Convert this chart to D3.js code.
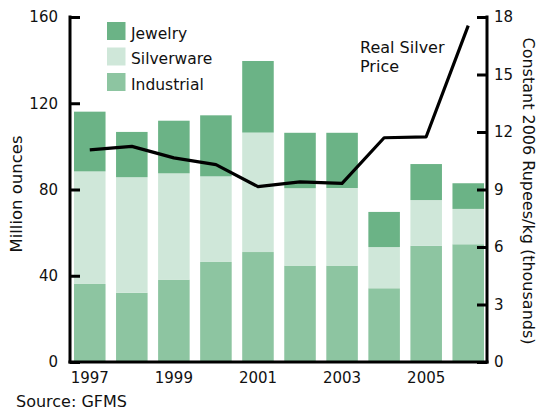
<!DOCTYPE html>
<html>
<head>
<meta charset="utf-8">
<script src="https://cdn.jsdelivr.net/npm/d3@7"></script>
<style>
  html, body { margin: 0; padding: 0; background: #fff; }
  svg { display: block; }
  text { font-family: "DejaVu Sans", Verdana, sans-serif; fill: #111; }
</style>
</head>
<body>
<svg id="chart" width="539" height="409"></svg>
<script>
// Silver demand in India by end use (million ounces) and the real silver price
const years = [1997, 1998, 1999, 2000, 2001, 2002, 2003, 2004, 2005, 2006];
const industrial = [36.2, 32.1, 38.2, 46.4, 51.0, 44.7, 44.7, 34.2, 53.9, 54.6];
const silverware = [52.2, 53.6, 49.3, 39.7, 55.4, 35.9, 36.0, 19.1, 21.2, 16.4];
const jewelry = [27.7, 21.0, 24.4, 28.3, 33.2, 25.7, 25.6, 16.3, 16.7, 11.9];
const price = [11.07, 11.25, 10.65, 10.3, 9.15, 9.4, 9.32, 11.7, 11.75, 17.55];

const leftTicks = [0, 40, 80, 120, 160];
const rightTicks = [0, 3, 6, 9, 12, 15, 18];
const yearLabels = [1997, 1999, 2001, 2003, 2005];

const seriesNames = ["Industrial", "Silverware", "Jewelry"];
const seriesColors = { Industrial: "#8dc5a1", Silverware: "#cfe7d9", Jewelry: "#6bb386" };

const rows = years.map((y, i) => ({
  year: y, Industrial: industrial[i], Silverware: silverware[i], Jewelry: jewelry[i]
}));

const svg = d3.select("#chart");
const plot = { left: 70, right: 487, top: 17, bottom: 362 };
const tickFont = 15;
const textFont = 16;

const x = d3.scaleBand().domain(years).range([74, 484]).paddingInner(0.25).paddingOuter(0);
const yL = d3.scaleLinear().domain([0, 160]).range([plot.bottom, plot.top]);
const yR = d3.scaleLinear().domain([0, 18]).range([plot.bottom, plot.top]);

// stacked bars
const stacked = d3.stack().keys(seriesNames)(rows);
svg.append("g").selectAll("g")
  .data(stacked)
  .join("g")
  .attr("fill", d => seriesColors[d.key])
  .selectAll("rect")
  .data(d => d)
  .join("rect")
  .attr("x", d => x(d.data.year))
  .attr("width", x.bandwidth())
  .attr("y", d => yL(d[1]))
  .attr("height", d => yL(d[0]) - yL(d[1]));

// real silver price line
const line = d3.line()
  .x((d, i) => x(years[i]) + x.bandwidth() / 2)
  .y(d => yR(d));
svg.append("path")
  .datum(price)
  .attr("d", line)
  .attr("fill", "none")
  .attr("stroke", "#000")
  .attr("stroke-width", 3.2)
  .attr("stroke-linejoin", "round");

// left axis
const leftAxis = d3.axisRight(yL).tickValues(leftTicks).tickSize(10).tickFormat(d3.format("d"));
const gL = svg.append("g").attr("transform", `translate(${plot.left},0)`).call(leftAxis);
gL.select(".domain").remove();
gL.selectAll(".tick line").attr("stroke", "#000").attr("stroke-width", 3);
gL.selectAll(".tick text").attr("x", -12).attr("text-anchor", "end")
  .attr("font-size", tickFont).attr("font-family", "DejaVu Sans, Verdana, sans-serif").attr("fill", "#111");

// right axis
const rightAxis = d3.axisLeft(yR).tickValues(rightTicks).tickSize(10);
const gR = svg.append("g").attr("transform", `translate(${plot.right},0)`).call(rightAxis);
gR.select(".domain").remove();
gR.selectAll(".tick line").attr("stroke", "#000").attr("stroke-width", 3);
gR.selectAll(".tick text").attr("x", 7).attr("text-anchor", "start")
  .attr("font-size", tickFont).attr("font-family", "DejaVu Sans, Verdana, sans-serif").attr("fill", "#111");

// bottom axis with year labels
const bottomAxis = d3.axisBottom(x).tickValues(yearLabels).tickSize(0).tickFormat(d3.format("d"));
const gB = svg.append("g").attr("transform", `translate(0,${plot.bottom})`).call(bottomAxis);
gB.select(".domain").remove();
gB.selectAll(".tick text").attr("y", 10)
  .attr("font-size", tickFont).attr("font-family", "DejaVu Sans, Verdana, sans-serif").attr("fill", "#111");

// axis frame lines
svg.append("line").attr("x1", plot.left).attr("x2", plot.left)
  .attr("y1", plot.top - 1.5).attr("y2", plot.bottom + 1.5)
  .attr("stroke", "#000").attr("stroke-width", 3);
svg.append("line").attr("x1", plot.right).attr("x2", plot.right)
  .attr("y1", plot.top - 1.5).attr("y2", plot.bottom + 1.5)
  .attr("stroke", "#000").attr("stroke-width", 3);
svg.append("line").attr("x1", plot.left - 1.5).attr("x2", plot.right + 1.5)
  .attr("y1", plot.bottom).attr("y2", plot.bottom)
  .attr("stroke", "#000").attr("stroke-width", 3);

// axis titles
svg.append("text")
  .attr("transform", `translate(21.5,194) rotate(-90)`)
  .attr("text-anchor", "middle")
  .attr("font-family", "Liberation Sans, Arial, sans-serif")
  .attr("font-size", 16.5)
  .text("Million ounces");
svg.append("text")
  .attr("transform", `translate(523,191) rotate(90)`)
  .attr("text-anchor", "middle")
  .attr("font-size", textFont)
  .text("Constant 2006 Rupees/kg (thousands)");

// legend
const legendOrder = ["Jewelry", "Silverware", "Industrial"];
const lg = svg.append("g").attr("transform", "translate(107,22)");
legendOrder.forEach((name, i) => {
  lg.append("rect").attr("x", 0).attr("y", i * 25.5).attr("width", 18.5).attr("height", 18)
    .attr("fill", seriesColors[name]);
  lg.append("text").attr("x", 24).attr("y", i * 25.5 + 16.5).attr("font-size", 15.5).text(name);
});

// line label
svg.append("text").attr("x", 360).attr("y", 53.3).attr("font-size", textFont).text("Real Silver");
svg.append("text").attr("x", 360).attr("y", 71.7).attr("font-size", textFont).text("Price");

// source note
svg.append("text").attr("x", 16).attr("y", 406.5).attr("font-size", textFont).text("Source: GFMS");
</script>
</body>
</html>
